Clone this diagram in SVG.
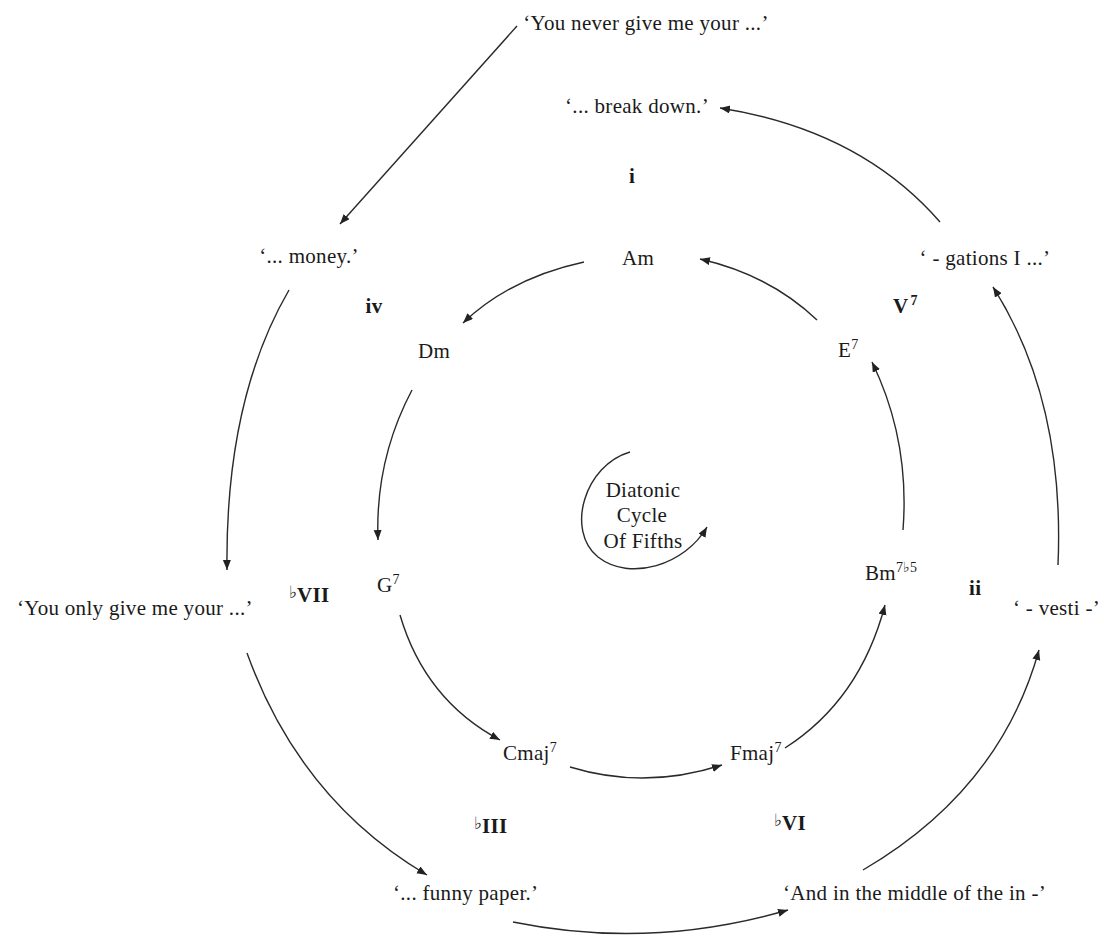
<svg xmlns="http://www.w3.org/2000/svg" width="1104" height="938" viewBox="0 0 1104 938">
<defs>
<marker id="ah" markerUnits="userSpaceOnUse" markerWidth="12" markerHeight="10" refX="10" refY="4" orient="auto">
<path d="M0,0 L10,4 L0,8 Z" fill="#222"/>
</marker>
<style>
text{font-family:"Liberation Serif","Times New Roman",serif;font-size:21px;letter-spacing:0.3px;fill:#1a1a1a}
.b{font-weight:bold}
.m{text-anchor:middle}
.sup{font-size:14px;letter-spacing:0}
.fl{font-size:17px;font-weight:normal;letter-spacing:0}
.c{fill:none;stroke:#2a2a2a;stroke-width:1.4;marker-end:url(#ah)}
</style>
</defs>
<rect width="1104" height="938" fill="#fff"/>
<g id="connectors">
<path class="c" d="M517 26 L340 224"/>
<path class="c" d="M940 222 Q860 130 720 108"/>
<path class="c" d="M584 262 Q510 278 463 323"/>
<path class="c" d="M817 320 Q770 275 700 259"/>
<path class="c" d="M412 390 Q375 460 378 540"/>
<path class="c" d="M903 530 Q910 440 872 362"/>
<path class="c" d="M400 615 Q425 700 500 740"/>
<path class="c" d="M570 767 Q645 790 722 765"/>
<path class="c" d="M785 748 Q860 700 885 605"/>
<path class="c" d="M289 290 Q225 400 227 570"/>
<path class="c" d="M247 653 Q300 800 427 875"/>
<path class="c" d="M513 922 Q650 950 788 910"/>
<path class="c" d="M863 870 Q1000 790 1039 650"/>
<path class="c" d="M1058 565 Q1065 400 993 287"/>
<path class="c" d="M630 452 C585 465 565 530 598 557 C630 582 685 565 707 527"/>
</g>
<g id="lyric-never"><text class="m" x="646" y="30">‘You never give me your ...’</text></g>
<g id="lyric-breakdown"><text class="m" x="637" y="113">‘... break down.’</text></g>
<g id="deg-i"><text class="b m" x="632" y="183">i</text></g>
<g id="lyric-money"><text class="m" x="309" y="263">‘... money.’</text></g>
<g id="chord-Am"><text class="m" x="638" y="265">Am</text></g>
<g id="lyric-gations"><text class="m" x="985" y="265">‘ - gations I ...’</text></g>
<g id="deg-iv"><text class="b m" x="374" y="313">iv</text></g>
<g id="deg-V7"><text class="b" x="893" y="313">V<tspan class="sup" dx="2" dy="-8">7</tspan></text></g>
<g id="chord-Dm"><text x="418" y="358">Dm</text></g>
<g id="chord-E7"><text x="838" y="357">E<tspan class="sup" dy="-8">7</tspan></text></g>
<g id="center">
<text class="m" x="643" y="497">Diatonic</text>
<text class="m" x="642" y="522">Cycle</text>
<text class="m" x="643" y="548">Of Fifths</text>
</g>
<g id="lyric-youonly"><text x="17" y="615">‘You only give me your ...’</text></g>
<g id="deg-bVII"><text class="b" x="289" y="602"><tspan class="fl" dy="-4">♭</tspan><tspan dy="4">VII</tspan></text></g>
<g id="chord-G7"><text x="377" y="592">G<tspan class="sup" dy="-8">7</tspan></text></g>
<g id="chord-Bm7b5"><text x="865" y="580">Bm<tspan class="sup" dy="-8">7♭5</tspan></text></g>
<g id="deg-ii"><text class="b" x="969" y="595">ii</text></g>
<g id="lyric-vesti"><text x="1013" y="615">‘ - vesti -’</text></g>
<g id="chord-Cmaj7"><text x="503" y="760">Cmaj<tspan class="sup" dy="-8">7</tspan></text></g>
<g id="chord-Fmaj7"><text x="730" y="760">Fmaj<tspan class="sup" dy="-8">7</tspan></text></g>
<g id="deg-bIII"><text class="b" x="474" y="833"><tspan class="fl" dy="-4">♭</tspan><tspan dy="4">III</tspan></text></g>
<g id="deg-bVI"><text class="b" x="774" y="830"><tspan class="fl" dy="-4">♭</tspan><tspan dy="4">VI</tspan></text></g>
<g id="lyric-funny"><text x="393" y="900">‘... funny paper.’</text></g>
<g id="lyric-middle"><text x="783" y="900">‘And in the middle of the in -’</text></g>
</svg>
